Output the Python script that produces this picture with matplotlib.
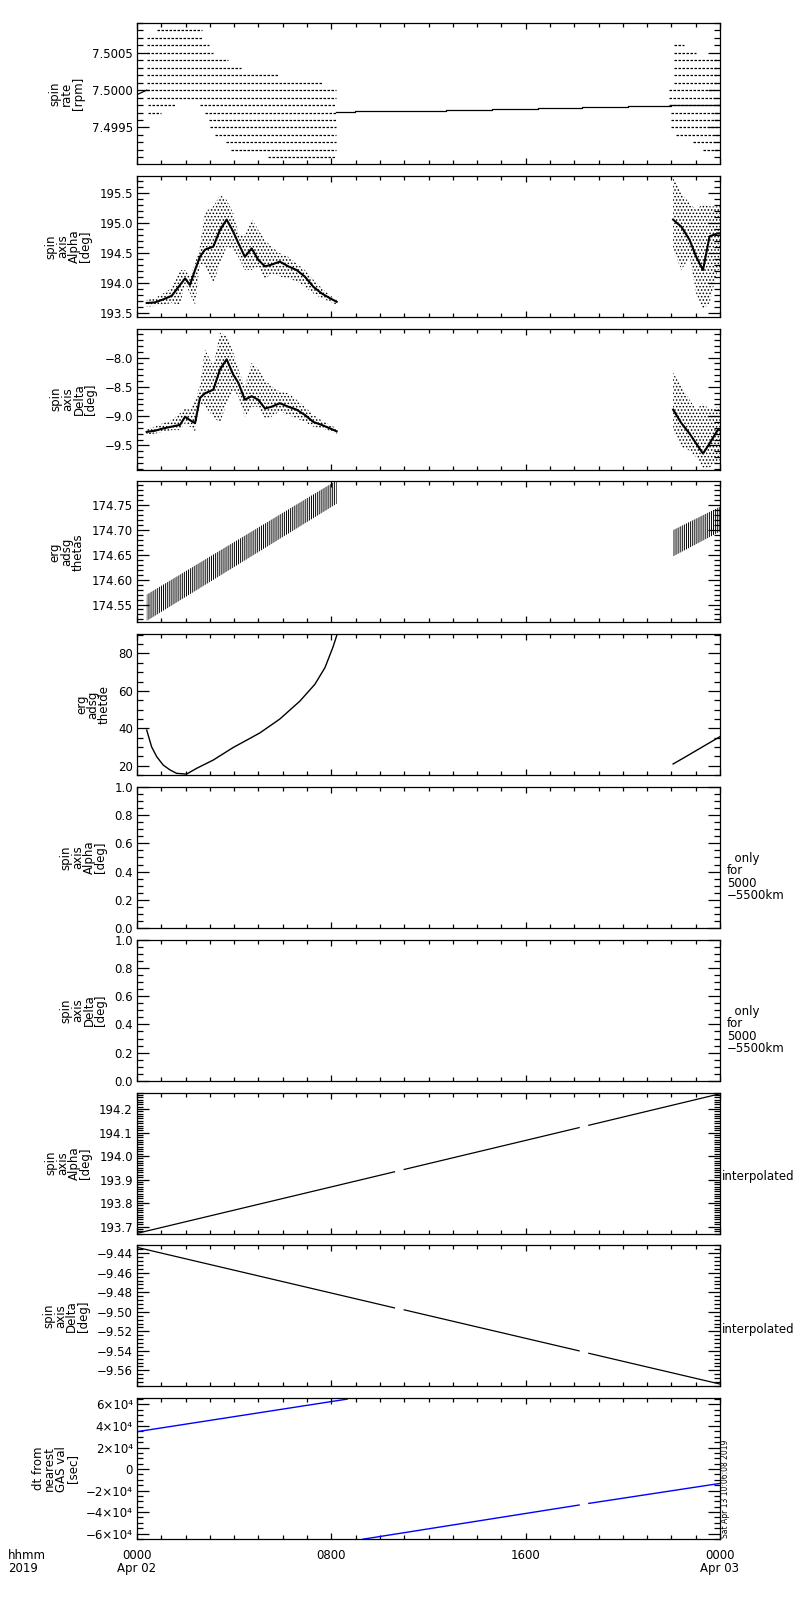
import matplotlib
matplotlib.use("Agg")
import matplotlib.pyplot as plt
from matplotlib.ticker import MultipleLocator, FuncFormatter

plt.rcParams['font.family'] = ['DejaVu Sans']
plt.rcParams['font.size'] = 8.5
plt.rcParams['hatch.linewidth'] = 0.7
plt.rcParams['axes.linewidth'] = 0.9

# ---- panel 1: spin rate, quantised samples (one row per level) ----
rate_levels = [7.5008, 7.5007, 7.5006, 7.5005, 7.5004, 7.5003, 7.5002, 7.5001, 7.5000,
               7.4999, 7.4998, 7.4998, 7.4997, 7.4997, 7.4996, 7.4995, 7.4994, 7.4993,
               7.4992, 7.4991,
               7.5006, 7.5005, 7.5004, 7.5003, 7.5002, 7.5001, 7.5000, 7.4999, 7.4998,
               7.4997, 7.4996, 7.4995, 7.4994, 7.4993, 7.4992]
rate_start = [0.82, 0.41, 0.41, 0.41, 0.41, 0.41, 0.41, 0.41, 0.41,
              0.41, 0.45, 2.60, 0.45, 2.80, 2.96, 3.00, 3.20, 3.65,
              3.85, 5.40,
              22.1, 22.1, 22.1, 22.1, 22.1, 22.1, 21.9, 21.9, 21.9,
              22.0, 22.0, 22.0, 22.2, 22.9, 23.3]
rate_end = [2.67, 2.67, 2.96, 3.13, 3.75, 4.30, 5.80, 7.67, 8.20,
            8.20, 1.56, 8.20, 1.00, 8.20, 8.20, 8.20, 8.20, 8.20,
            8.20, 8.20,
            22.5, 23.0, 23.9, 23.9, 23.9, 23.9, 23.9, 23.9, 24.0,
            23.9, 23.9, 23.9, 23.9, 23.9, 23.9]
rate_line_h = [0.0, 0.4]
rate_line_v = [7.49994, 7.50000]
rate_step_h = [8.2, 8.97, 12.74, 14.6, 16.5, 18.3, 20.2, 22.0, 24.0]
rate_step_v = [7.499705, 7.499719, 7.499732, 7.499745, 7.499759, 7.499772,
               7.499786, 7.499799, 7.499799]

# ---- panels 2/3: spin axis alpha / delta point clouds (envelope + dense core) ----
cloud_h = [0.40, 0.74, 1.08, 1.43, 1.77, 1.98, 2.18, 2.39, 2.59, 2.80, 3.14, 3.42, 3.69,
           3.96, 4.17, 4.44, 4.72, 4.99, 5.27, 5.54, 5.88, 6.23, 6.57, 6.91, 7.26, 7.60,
           7.94, 8.22]
alpha_core = [193.67, 193.68, 193.73, 193.79, 193.97, 194.08, 193.97, 194.22, 194.44, 194.56,
              194.61, 194.89, 195.06, 194.86, 194.67, 194.44, 194.58, 194.39, 194.28, 194.31,
              194.36, 194.28, 194.22, 194.11, 193.94, 193.83, 193.75, 193.69]
alpha_hi = [193.72, 193.75, 193.83, 193.92, 194.22, 194.22, 194.11, 194.33, 194.61, 195.19,
            195.28, 195.47, 195.39, 195.17, 194.83, 194.78, 195.08, 194.89, 194.72, 194.61,
            194.50, 194.44, 194.33, 194.22, 194.06, 193.92, 193.80, 193.72]
alpha_lo = [193.61, 193.62, 193.64, 193.67, 193.64, 194.00, 193.83, 193.64, 194.33, 194.28,
            194.00, 194.33, 194.61, 194.56, 194.44, 194.22, 194.22, 194.28, 194.06, 194.17,
            194.11, 194.08, 194.03, 193.94, 193.83, 193.75, 193.69, 193.64]
delta_core = [-9.27, -9.25, -9.21, -9.18, -9.15, -9.01, -9.07, -9.12, -8.69, -8.61, -8.55,
              -8.20, -8.03, -8.29, -8.43, -8.72, -8.66, -8.72, -8.87, -8.84, -8.78, -8.84,
              -8.89, -8.98, -9.10, -9.15, -9.21, -9.26]
delta_hi = [-9.21, -9.18, -9.12, -9.07, -8.95, -8.87, -8.89, -8.72, -8.49, -7.86, -8.15,
            -7.57, -7.63, -7.91, -8.20, -8.49, -8.09, -8.20, -8.38, -8.49, -8.58, -8.61,
            -8.72, -8.84, -8.98, -9.07, -9.15, -9.21]
delta_lo = [-9.31, -9.30, -9.27, -9.24, -9.24, -9.12, -9.18, -9.27, -8.78, -8.84, -9.01,
            -9.12, -8.78, -8.55, -8.66, -9.01, -8.84, -8.84, -9.04, -9.01, -8.92, -8.98,
            -9.04, -9.10, -9.18, -9.21, -9.25, -9.30]

cloud2_h = [22.07, 22.41, 22.75, 23.02, 23.30, 23.57, 23.90, 24.0]
alpha2_core = [195.06, 194.94, 194.72, 194.44, 194.22, 194.78, 194.83, 194.83]
alpha2_hi = [195.78, 195.50, 195.33, 195.22, 195.33, 195.28, 195.28, 195.28]
alpha2_lo = [194.56, 194.22, 194.44, 193.83, 193.56, 193.67, 194.22, 194.22]
delta2_core = [-8.89, -9.12, -9.30, -9.47, -9.64, -9.47, -9.24, -9.24]
delta2_hi = [-8.26, -8.49, -8.72, -8.89, -8.78, -8.89, -8.84, -8.84]
delta2_lo = [-9.24, -9.53, -9.59, -9.70, -9.88, -9.88, -9.76, -9.76]

# ---- panel 4: erg adsg thetas band ----
band_h = [0.40, 8.22]
band_lo = [174.517, 174.753]
band_hi = [174.570, 174.800]
band2_h = [22.07, 24.0]
band2_lo = [174.647, 174.697]
band2_hi = [174.700, 174.747]

# ---- panel 5: erg adsg thetde ----
thetde_h = [0.40, 0.60, 0.81, 1.08, 1.36, 1.63, 2.04, 2.46, 3.14, 3.96, 4.50, 5.06, 5.88,
            6.70, 7.32, 7.74, 8.07, 8.22]
thetde_v = [39.1, 30.2, 24.9, 20.4, 17.8, 16.0, 15.6, 18.7, 23.1, 29.8, 33.6, 37.6, 45.0,
            54.5, 63.5, 72.5, 83.5, 89.5]
thetde2_h = [22.07, 22.5, 23.0, 23.5, 24.0]
thetde2_v = [21.0, 24.2, 28.0, 31.8, 35.6]

# ---- panels 8/9: interpolated spin axis (segments split at data gaps) ----
interp_h = [[0.0, 10.6], [11.0, 18.2], [18.6, 24.0]]
interp_alpha = [[193.671, 193.933], [193.943, 194.121], [194.131, 194.265]]
interp_delta = [[-9.434, -9.496], [-9.498, -9.540], [-9.5425, -9.574]]

# ---- panel 10: dt from nearest GAS value ----
dt_h = [[0.0, 8.65], [9.3, 18.2], [18.6, 24.0]]
dt_v = [[34700, 65000], [-65300, -33500], [-32000, -13400]]

labels = ["spin\nrate\n[rpm]", "spin\naxis\nAlpha\n[deg]", "spin\naxis\nDelta\n[deg]",
          "erg\nadsg\nthetas", "erg\nadsg\nthetde", "spin\naxis\nAlpha\n[deg]",
          "spin\naxis\nDelta\n[deg]", "spin\naxis\nAlpha\n[deg]", "spin\naxis\nDelta\n[deg]",
          "dt from\nnearest\nGAS val\n[sec]"]
ylims = [(7.49901, 7.50090), (193.44, 195.79), (-9.914, -7.505), (174.514, 174.798),
         (15.0, 90.3), (0, 1), (0, 1), (193.67, 194.27), (-9.5764, -9.432), (-65300, 65860)]
majors = [0.0005, 0.5, 0.5, 0.05, 20, 0.2, 0.2, 0.1, 0.02, 20000]
minors = [0.0001, 0.1, 0.1, 0.01, 5, 0.05, 0.05, 0.01, 0.004, 5000]
fmts = ['%.4f', '%.1f', '%.1f', '%.2f', '%d', '%.1f', '%.1f', '%.1f', '%.2f', None]


def fmt_func(f):
    def inner(v, pos):
        return (f % v).replace('-', '\u2212')
    return inner


def sci_fmt(v, pos):
    n = int(round(v / 1e4))
    if n == 0:
        return '0'
    return ('%d\u00d710\u2074' % n).replace('-', '\u2212')


fig = plt.figure(figsize=(8, 16), dpi=100)
axes = []
for i in range(10):
    top = 23 + i * 152.8
    ax = fig.add_axes([137 / 800, 1 - (top + 141) / 1600, 583 / 800, 141 / 1600])
    ax.set_xlim(0, 24)
    ax.set_ylim(*ylims[i])
    ax.xaxis.set_major_locator(MultipleLocator(8))
    ax.xaxis.set_minor_locator(MultipleLocator(1))
    ax.yaxis.set_major_locator(MultipleLocator(majors[i]))
    ax.yaxis.set_minor_locator(MultipleLocator(minors[i]))
    if fmts[i] is None:
        ax.yaxis.set_major_formatter(FuncFormatter(sci_fmt))
    else:
        ax.yaxis.set_major_formatter(FuncFormatter(fmt_func(fmts[i])))
    ax.tick_params(which='both', direction='in', top=True, right=True, width=0.9)
    ax.tick_params(axis='y', which='major', length=8.4, pad=3)
    ax.tick_params(axis='y', which='minor', length=4.3)
    ax.tick_params(axis='x', which='major', length=4.5)
    ax.tick_params(axis='x', which='minor', length=3)
    ax.set_ylabel(labels[i], linespacing=0.85, labelpad=5, multialignment='center')
    if i < 9:
        ax.set_xticklabels([])
    axes.append(ax)

# panel 1
ax = axes[0]
ax.hlines(rate_levels, rate_start, rate_end, colors='black', linewidth=0.9,
          linestyles=[(0, (2.0, 1.2))])
ax.plot(rate_line_h, rate_line_v, color='black', lw=0.9)
ax.plot(rate_step_h, rate_step_v, color='black', lw=0.9, drawstyle='steps-post')

# panels 2, 3
for ax, h, lo, hi, core in [(axes[1], cloud_h, alpha_lo, alpha_hi, alpha_core),
                            (axes[1], cloud2_h, alpha2_lo, alpha2_hi, alpha2_core),
                            (axes[2], cloud_h, delta_lo, delta_hi, delta_core),
                            (axes[2], cloud2_h, delta2_lo, delta2_hi, delta2_core)]:
    ax.fill_between(h, lo, hi, facecolor='none', edgecolor='black', hatch='.....', linewidth=0)
    ax.plot(h, core, color='black', lw=1.5)

# panel 4
for h, lo, hi in [(band_h, band_lo, band_hi), (band2_h, band2_lo, band2_hi)]:
    axes[3].fill_between(h, lo, hi, facecolor='none', edgecolor='black', hatch='||||||||',
                         linewidth=0)

# panel 5
axes[4].plot(thetde_h, thetde_v, color='black', lw=1.0)
axes[4].plot(thetde2_h, thetde2_v, color='black', lw=1.0)

# panels 8, 9
for h, a, d in zip(interp_h, interp_alpha, interp_delta):
    axes[7].plot(h, a, color='black', lw=0.9)
    axes[8].plot(h, d, color='black', lw=0.9)

# panel 10
for h, v in zip(dt_h, dt_v):
    axes[9].plot(h, v, color='blue', lw=1.0)

axes[9].set_xticks([0, 8, 16, 24])
axes[9].set_xticklabels(['0000\nApr 02', '0800', '1600', '0000\nApr 03'],
                        linespacing=1.0, va='top')
axes[9].tick_params(axis='x', which='major', pad=7)

fig.text(8 / 800, 1 - 1549 / 1600, 'hhmm\n2019', ha='left', va='top', linespacing=1.0)

for i in (5, 6):
    cy = 23 + i * 152.8 + 70 + 20
    fig.text(727 / 800, 1 - cy / 1600, '  only\nfor\n5000\n\u22125500km', ha='left',
             va='center', linespacing=0.95)
for i in (7, 8):
    cy = 23 + i * 152.8 + 70 + 14
    fig.text(722 / 800, 1 - cy / 1600, 'interpolated', ha='left', va='center')

fig.text(725 / 800, 1 - 1538 / 1600, 'Sat Apr 13 10:06:08 2019', rotation=90,
         ha='center', va='bottom', fontsize=5.5)

fig.savefig('out.png', dpi=100)
